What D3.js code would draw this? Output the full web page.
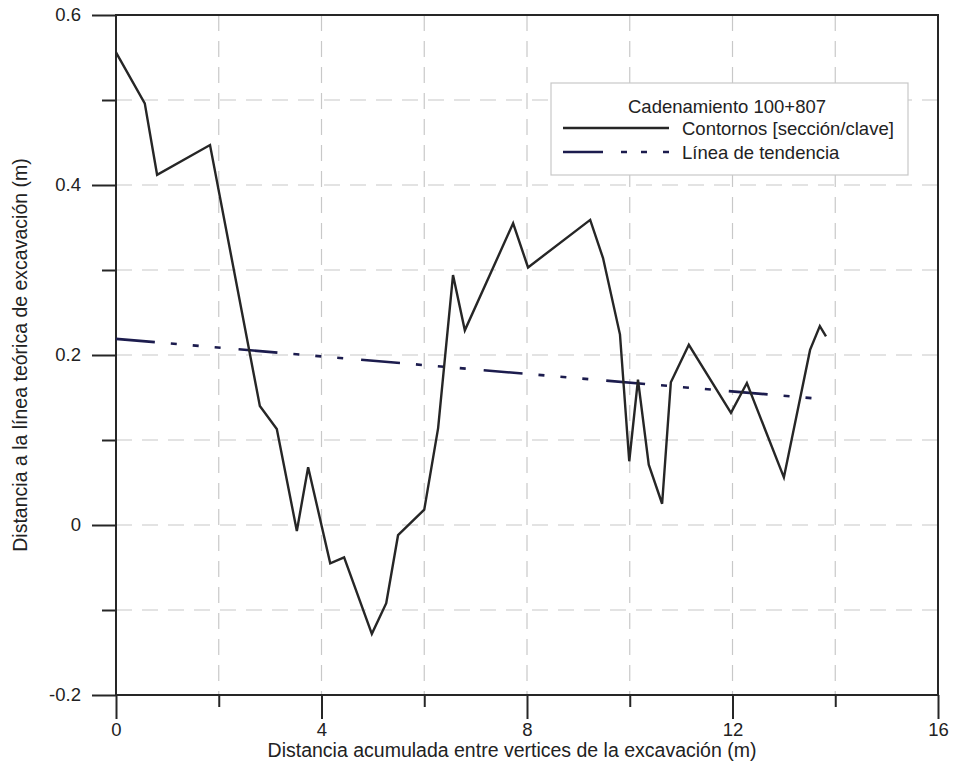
<!DOCTYPE html>
<html>
<head>
<meta charset="utf-8">
<script src="https://cdn.jsdelivr.net/npm/d3@7"></script>
<style>
	body { margin: 0; background: #fff; }
	svg { display: block; font-family: 'Liberation Sans', Arial, sans-serif; }
	.grid line { stroke: #c8c8c8; stroke-width: 1.2; stroke-dasharray: 16,10; }
	.tick-label { font-size: 18.5px; fill: #222; }
	.axis-title { font-size: 19.5px; fill: #222; }
</style>
</head>
<body>
<svg id="viz"></svg>
<script>
var distances = [ 0, 0.56, 0.8, 1.83, 2.80, 3.13, 3.52, 3.74, 4.17, 4.44, 4.98, 5.26, 5.49, 6.0, 6.27, 6.56, 6.79, 7.73, 8.02, 9.23, 9.48, 9.81, 9.99, 10.16, 10.37, 10.63, 10.80, 11.15, 11.97, 12.28, 13.0, 13.51, 13.70, 13.82 ];
var contours = [ 0.556, 0.496, 0.412, 0.447, 0.140, 0.113, -0.007, 0.068, -0.045, -0.038, -0.128, -0.092, -0.012, 0.018, 0.114, 0.294, 0.229, 0.355, 0.303, 0.359, 0.314, 0.224, 0.075, 0.171, 0.071, 0.025, 0.168, 0.212, 0.132, 0.167, 0.056, 0.206, 0.234, 0.222 ];

var trendX = [ 0, 13.78 ];
var trendY = [ 0.219, 0.148 ];

var xTicks = [ 0, 4, 8, 12, 16 ];
var xMinor = [ 2, 6, 10, 14 ];
var yTicks = [ 0.6, 0.4, 0.2, 0, -0.2 ];
var yTickLabels = [ '0.6', '0.4', '0.2', '0', '-0.2' ];
var yMinor = [ 0.5, 0.3, 0.1, -0.1 ];
var xGrid = [ 2, 4, 6, 8, 10, 12, 14 ];
var yGrid = [ 0.5, 0.4, 0.3, 0.2, 0.1, 0, -0.1 ];

var legendTitle = 'Cadenamiento 100+807';
var legendItems = [ 'Contornos [sección/clave]', 'Línea de tendencia' ];
var xTitle = 'Distancia acumulada entre vertices de la excavación (m)';
var yTitle = 'Distancia a la línea teórica de excavación (m)';

var width = 954, height = 776;
var plot = { left: 116, right: 938, top: 15, bottom: 695 };
var ink = '#262626';
var trendColor = '#1c1c4e';
var trendDash = '39,16,6,16,6,16,6,18';

var svg = d3.select( '#viz' )
	.attr( 'width', width )
	.attr( 'height', height );

var xScale = d3.scaleLinear().domain( [ 0, 16 ] ).range( [ plot.left, plot.right ] );
var yScale = d3.scaleLinear().domain( [ -0.2, 0.6 ] ).range( [ plot.bottom, plot.top ] );

// grid
var grid = svg.append( 'g' ).classed( 'grid', true );
grid.selectAll( 'line.v' )
	.data( xGrid )
	.enter()
	.append( 'line' )
	.attr( 'x1', function ( d ) { return xScale( d ); } )
	.attr( 'x2', function ( d ) { return xScale( d ); } )
	.attr( 'y1', plot.top )
	.attr( 'y2', plot.bottom );
grid.selectAll( 'line.h' )
	.data( yGrid )
	.enter()
	.append( 'line' )
	.attr( 'y1', function ( d ) { return yScale( d ); } )
	.attr( 'y2', function ( d ) { return yScale( d ); } )
	.attr( 'x1', plot.left )
	.attr( 'x2', plot.right );

// axes with outward major / minor ticks
svg.append( 'g' )
	.attr( 'transform', 'translate(0,' + plot.bottom + ')' )
	.call( d3.axisBottom( xScale ).tickValues( xTicks ).tickSize( 24 ).tickPadding( 4 ).tickFormat( d3.format( 'd' ) ) );
svg.append( 'g' )
	.attr( 'transform', 'translate(0,' + plot.bottom + ')' )
	.call( d3.axisBottom( xScale ).tickValues( xMinor ).tickSize( 12 ).tickFormat( '' ) );

svg.append( 'g' )
	.attr( 'transform', 'translate(' + plot.left + ',0)' )
	.call( d3.axisLeft( yScale ).tickValues( yTicks ).tickSize( 24 ).tickPadding( 11 ).tickFormat( function ( d, i ) { return yTickLabels[i]; } ) );
svg.append( 'g' )
	.attr( 'transform', 'translate(' + plot.left + ',0)' )
	.call( d3.axisLeft( yScale ).tickValues( yMinor ).tickSize( 14 ).tickFormat( '' ) );

svg.selectAll( '.domain' ).remove();
svg.selectAll( '.tick line' ).attr( 'stroke', ink ).attr( 'stroke-width', 2 );
svg.selectAll( '.tick text' ).classed( 'tick-label', true ).attr( 'fill', null );
svg.selectAll( 'g[font-size]' ).attr( 'font-size', null ).attr( 'font-family', null );

// frame
svg.append( 'rect' )
	.attr( 'x', plot.left )
	.attr( 'y', plot.top )
	.attr( 'width', plot.right - plot.left )
	.attr( 'height', plot.bottom - plot.top )
	.attr( 'fill', 'none' )
	.attr( 'stroke', ink )
	.attr( 'stroke-width', 2 );

// trend
var trend = trendX.map( function ( d, i ) { return [ d, trendY[i] ]; } );
svg.append( 'path' )
	.datum( trend )
	.attr( 'd', d3.line()
		.x( function ( d ) { return xScale( d[0] ); } )
		.y( function ( d ) { return yScale( d[1] ); } ) )
	.attr( 'fill', 'none' )
	.attr( 'stroke', trendColor )
	.attr( 'stroke-width', 2.6 )
	.attr( 'stroke-dasharray', trendDash );

// contour line
var points = distances.map( function ( d, i ) { return [ d, contours[i] ]; } );
svg.append( 'path' )
	.datum( points )
	.attr( 'd', d3.line()
		.x( function ( d ) { return xScale( d[0] ); } )
		.y( function ( d ) { return yScale( d[1] ); } ) )
	.attr( 'fill', 'none' )
	.attr( 'stroke', ink )
	.attr( 'stroke-width', 2.4 );

// axis titles
svg.append( 'text' )
	.classed( 'axis-title', true )
	.attr( 'x', 512 )
	.attr( 'y', 757 )
	.attr( 'text-anchor', 'middle' )
	.text( xTitle );
svg.append( 'text' )
	.classed( 'axis-title', true )
	.attr( 'transform', 'translate(27,' + yScale( 0.2 ) + ') rotate(-90)' )
	.attr( 'text-anchor', 'middle' )
	.text( yTitle );

// legend
var legend = svg.append( 'g' ).attr( 'transform', 'translate(551,83)' );
legend.append( 'rect' )
	.attr( 'width', 357 )
	.attr( 'height', 92 )
	.attr( 'fill', '#fff' )
	.attr( 'stroke', '#c8c8c8' )
	.attr( 'stroke-width', 1.2 );
legend.append( 'text' )
	.classed( 'tick-label', true )
	.attr( 'x', 176 )
	.attr( 'y', 30 )
	.attr( 'text-anchor', 'middle' )
	.text( legendTitle );
legend.selectAll( 'line.key' )
	.data( legendItems )
	.enter()
	.append( 'line' )
	.attr( 'x1', 12 )
	.attr( 'x2', 118 )
	.attr( 'y1', function ( d, i ) { return 45 + i * 24; } )
	.attr( 'y2', function ( d, i ) { return 45 + i * 24; } )
	.attr( 'stroke', function ( d, i ) { return i === 0 ? ink : trendColor; } )
	.attr( 'stroke-width', 2.4 )
	.attr( 'stroke-dasharray', function ( d, i ) { return i === 0 ? null : '40,18,6,14,6,16,6,40'; } );
legend.selectAll( 'text.item' )
	.data( legendItems )
	.enter()
	.append( 'text' )
	.classed( 'tick-label', true )
	.attr( 'x', 131 )
	.attr( 'y', function ( d, i ) { return 52 + i * 24; } )
	.text( function ( d ) { return d; } );
</script>
</body>
</html>
